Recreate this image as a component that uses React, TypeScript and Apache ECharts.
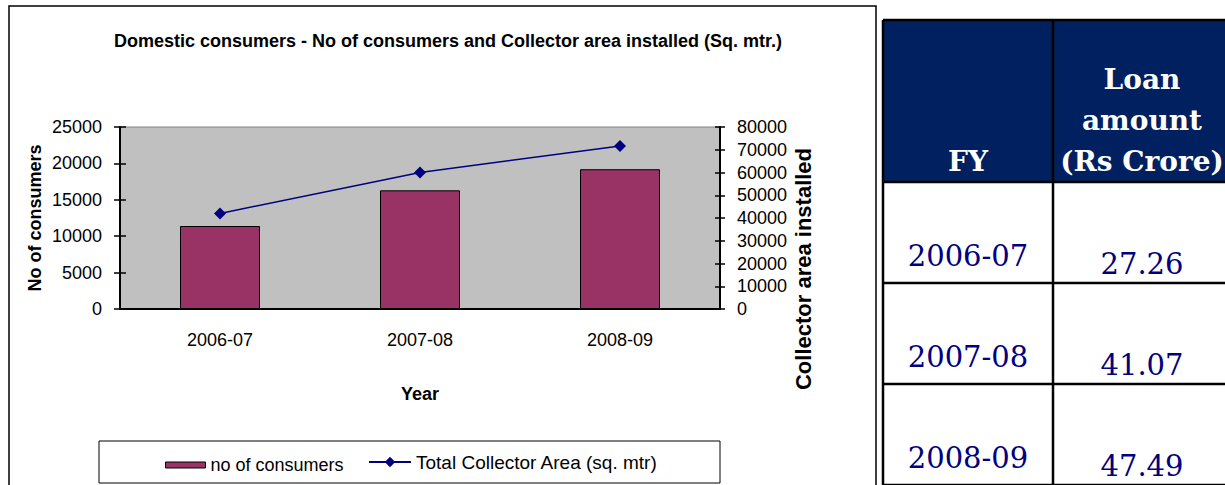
import React, { useEffect, useRef } from "react";
import * as echarts from "echarts";

// ---- data ----
const years = ["2006-07", "2007-08", "2008-09"];
const consumers = [11400, 16300, 19200];
const collectorArea = [42000, 60000, 71700];
const leftAxisRange = { min: 0, max: 25000, interval: 5000 };
const rightAxisRange = { min: 0, max: 80000, interval: 10000 };
const barName = "no of consumers";
const lineName = "Total Collector Area (sq. mtr)";
const chartTitle =
  "Domestic consumers - No of consumers and Collector area installed (Sq. mtr.)";
const tableHeadFY = "FY";
const tableHeadLoan = ["Loan", "amount", "(Rs Crore)"];
const fyLabels = ["2006-07", "2007-08", "2008-09"];
const loanAmounts = ["27.26", "41.07", "47.49"];

const SANS = "'Liberation Sans', Arial, sans-serif";
const SERIF = "'DejaVu Serif', serif";

function buildTable(): any[] {
  const els: any[] = [];
  const x0 = 883;
  const xMid = 1053;
  const x1 = 1231;
  const top = 20;
  const headBottom = 182;
  const rowH = 101;
  const nRows = fyLabels.length;
  const bottom = headBottom + rowH * nRows;
  els.push({
    type: "rect",
    shape: { x: x0, y: top, width: x1 - x0, height: headBottom - top },
    style: { fill: "#002060" },
  });
  const lw = 2.5;
  const hl = (y: number) => ({
    type: "line",
    shape: { x1: x0, y1: y, x2: x1, y2: y },
    style: { stroke: "#000", lineWidth: lw },
  });
  els.push(hl(top));
  els.push(hl(headBottom));
  for (let i = 1; i <= nRows; i++) els.push(hl(headBottom + rowH * i));
  [x0, xMid].forEach((x) =>
    els.push({
      type: "line",
      shape: { x1: x, y1: top, x2: x, y2: bottom },
      style: { stroke: "#000", lineWidth: lw },
    })
  );
  const c1 = (x0 + xMid) / 2;
  const c2 = (xMid + x1) / 2;
  els.push({
    type: "text",
    x: c1,
    y: headBottom - 21,
    style: {
      text: tableHeadFY,
      fill: "#fff",
      font: `bold 28px ${SERIF}`,
      textAlign: "center",
      textVerticalAlign: "middle",
    },
  });
  tableHeadLoan.forEach((t, i) => {
    els.push({
      type: "text",
      x: c2,
      y: headBottom - 21 - (tableHeadLoan.length - 1 - i) * 41,
      style: {
        text: t,
        fill: "#fff",
        font: `bold 28px ${SERIF}`,
        textAlign: "center",
        textVerticalAlign: "middle",
      },
    });
  });
  fyLabels.forEach((fy, i) => {
    const rb = headBottom + rowH * (i + 1);
    els.push({
      type: "text",
      x: c1,
      y: rb - 27,
      style: {
        text: fy,
        fill: "#000080",
        font: `29px ${SERIF}`,
        textAlign: "center",
        textVerticalAlign: "middle",
      },
    });
    els.push({
      type: "text",
      x: c2,
      y: rb - 19,
      style: {
        text: loanAmounts[i],
        fill: "#000080",
        font: `29px ${SERIF}`,
        textAlign: "center",
        textVerticalAlign: "middle",
      },
    });
  });
  return els;
}

export default function App() {
  const ref = useRef<HTMLDivElement>(null);
  useEffect(() => {
    if (!ref.current) return;
    const chart = echarts.init(ref.current, undefined, { renderer: "svg" });
    const plain = (v: number) => String(v);
    const axisLabelStyle = { color: "#000", fontSize: 18, fontFamily: SANS };
    const nameStyle = { fontSize: 18, fontWeight: "bold", color: "#000", fontFamily: SANS };
    const option: any = {
      animation: false,
      backgroundColor: "#fff",
      textStyle: { fontFamily: SANS },
      title: {
        text: chartTitle,
        left: 443,
        top: 27,
        textAlign: "center",
        textStyle: { fontSize: 18, fontWeight: "bold", color: "#000", fontFamily: SANS },
      },
      grid: {
        left: 120,
        top: 127,
        width: 600,
        height: 182,
        show: true,
        backgroundColor: "#C0C0C0",
        borderColor: "#808080",
        borderWidth: 1,
      },
      legend: [
        {
          data: [{ name: barName, icon: "rect" }],
          left: 165,
          top: 456,
          padding: 0,
          itemWidth: 40,
          itemHeight: 6,
          itemStyle: { borderColor: "#000", borderWidth: 1 },
          textStyle: { fontSize: 18, color: "#000", fontFamily: SANS },
        },
        {
          data: [{ name: lineName }],
          left: 368,
          top: 452.5,
          padding: 0,
          itemWidth: 42,
          itemHeight: 13,
          textStyle: { fontSize: 19, color: "#000", fontFamily: SANS },
        },
      ],
      xAxis: {
        type: "category",
        data: years,
        boundaryGap: true,
        name: "Year",
        nameLocation: "middle",
        nameGap: 76,
        nameTextStyle: nameStyle,
        axisLine: { lineStyle: { color: "#000", width: 2 } },
        axisTick: { inside: true, length: 7, lineStyle: { color: "#000", width: 1.5 } },
        axisLabel: { ...axisLabelStyle, margin: 22 },
      },
      yAxis: [
        {
          type: "value",
          position: "left",
          ...leftAxisRange,
          name: "No of consumers",
          nameLocation: "middle",
          nameGap: 76,
          nameTextStyle: nameStyle,
          splitLine: { show: false },
          axisLine: { show: true, lineStyle: { color: "#000", width: 2 } },
          axisTick: { show: true, length: 6, lineStyle: { color: "#000", width: 1.5 } },
          axisLabel: { ...axisLabelStyle, margin: 18, formatter: plain },
        },
        {
          type: "value",
          position: "right",
          ...rightAxisRange,
          splitLine: { show: false },
          axisLine: { show: true, lineStyle: { color: "#000", width: 2 } },
          axisTick: { show: true, length: 5, lineStyle: { color: "#000", width: 1.5 } },
          axisLabel: { ...axisLabelStyle, margin: 17, formatter: plain },
        },
        {
          type: "value",
          position: "left",
          ...leftAxisRange,
          splitLine: { show: false },
          axisLine: { show: false },
          axisLabel: { show: false },
          axisTick: { show: true, inside: true, length: 6, lineStyle: { color: "#000", width: 1.5 } },
        },
        {
          type: "value",
          position: "right",
          ...rightAxisRange,
          splitLine: { show: false },
          axisLine: { show: false },
          axisLabel: { show: false },
          axisTick: { show: true, inside: true, length: 5, lineStyle: { color: "#000", width: 1.5 } },
        },
      ],
      series: [
        {
          name: barName,
          type: "bar",
          data: consumers,
          yAxisIndex: 0,
          barWidth: 80,
          itemStyle: { color: "#993366", borderColor: "#000", borderWidth: 1 },
        },
        {
          name: lineName,
          type: "line",
          data: collectorArea,
          yAxisIndex: 1,
          symbol: "diamond",
          symbolSize: 12,
          lineStyle: { color: "#000080", width: 1.5 },
          itemStyle: { color: "#000080" },
        },
      ],
      graphic: [
        {
          type: "rect",
          shape: { x: 9, y: 6, width: 867, height: 495 },
          style: { fill: "transparent", stroke: "#000", lineWidth: 1.5 },
          silent: true,
        },
        {
          type: "rect",
          shape: { x: 99, y: 441, width: 621, height: 42 },
          style: { fill: "transparent", stroke: "#000", lineWidth: 1 },
          silent: true,
        },
        {
          type: "text",
          x: 803,
          y: 269,
          rotation: Math.PI / 2,
          style: {
            text: "Collector area installed",
            font: `bold 22px ${SANS}`,
            fill: "#000",
            textAlign: "center",
            textVerticalAlign: "middle",
          },
          silent: true,
        },
        ...buildTable(),
      ],
    };
    chart.setOption(option);
    return () => chart.dispose();
  }, []);
  return (
    <div
      ref={ref}
      style={{ position: "fixed", left: 0, top: 0, width: 1225, height: 485 }}
    />
  );
}
